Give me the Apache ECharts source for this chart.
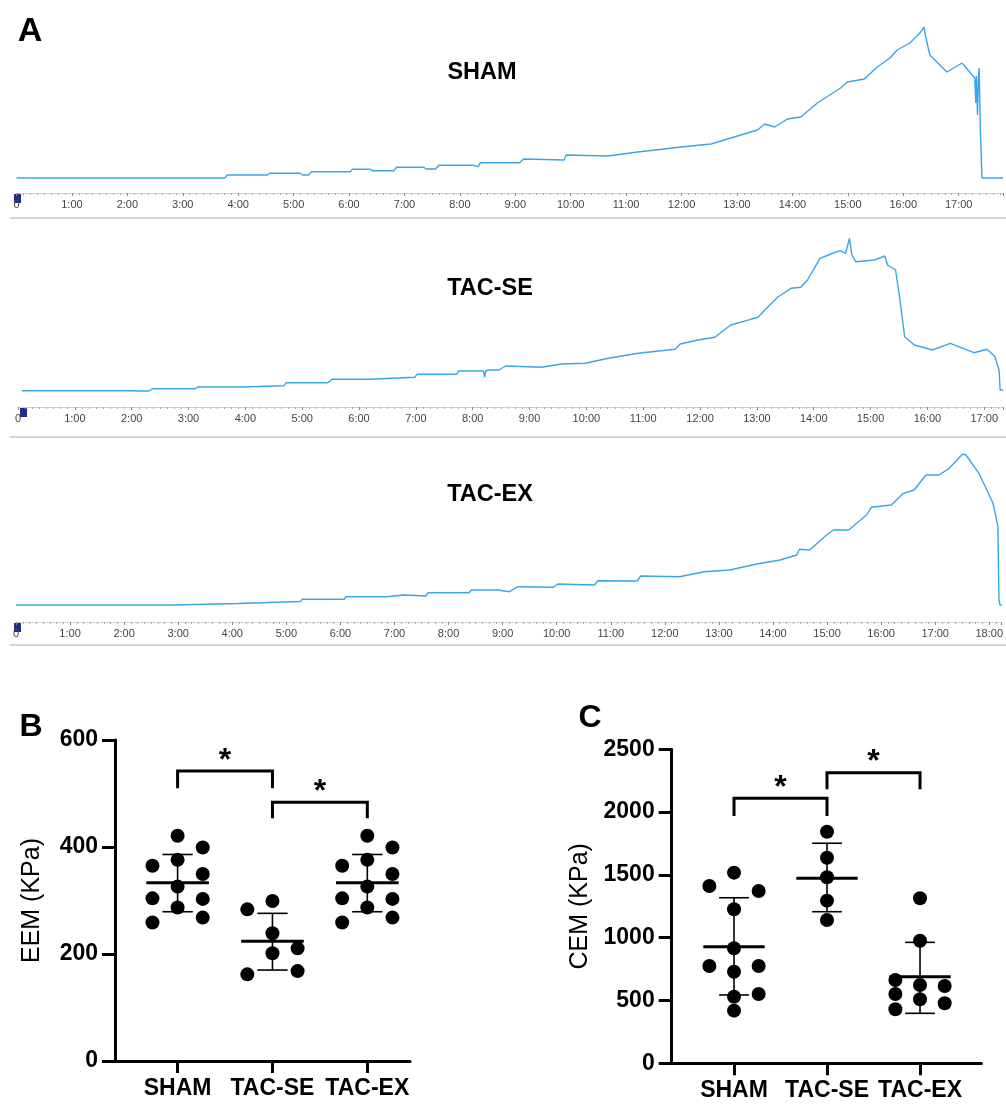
<!DOCTYPE html>
<html>
<head>
<meta charset="utf-8">
<script src="https://cdn.jsdelivr.net/npm/echarts@6/dist/echarts.min.js"></script>
<style>
  html, body { margin: 0; padding: 0; background: #fff; }
  #chart { width: 1006px; height: 1104px; }
</style>
</head>
<body>
<div id="chart"></div>
<script>
// ---- Panel A: tension traces, [time (min), force (a.u.)] ----
const shamTrace = [
  [0, 15], [3.0, 15], [3.03, 16], [3.08, 15], [3.76, 15], [3.8, 18], [4.53, 18], [4.57, 19.7],
  [5.12, 19.7], [5.16, 18], [5.27, 18], [5.32, 21.3], [6.02, 21.3], [6.06, 23.7], [6.38, 23.7],
  [6.42, 22.3], [6.81, 22.3], [6.86, 25.7], [7.35, 25.7], [7.39, 24], [7.56, 24], [7.62, 27.7],
  [8.25, 27.7], [8.28, 26.3], [8.33, 26.3], [8.37, 30.3], [9.08, 30.3], [9.11, 29.5], [9.15, 34],
  [9.88, 33], [9.92, 38], [10.67, 37], [11.21, 41], [11.99, 46], [12.53, 49], [12.89, 55],
  [13.37, 63], [13.5, 69], [13.68, 66], [13.91, 74], [14.15, 76], [14.45, 90], [14.87, 105],
  [14.99, 111], [15.3, 114], [15.53, 126], [15.76, 135], [15.89, 143], [16.12, 150], [16.3, 160],
  [16.38, 166], [16.39, 160], [16.48, 138], [16.79, 121], [17.06, 130], [17.2, 121], [17.29, 115],
  [17.31, 90], [17.32, 117], [17.34, 78], [17.36, 120], [17.37, 125], [17.39, 66], [17.42, 15],
  [17.8, 15]
];
const tacSeTrace = [
  [0.07, 16.3], [2.0, 16.3], [2.1, 16], [2.3, 16], [2.37, 18.3], [3.12, 18.3], [3.16, 20],
  [3.95, 20], [3.98, 21.3], [4.68, 21.3], [4.72, 24.3], [5.45, 24.3], [5.47, 23.5], [5.53, 27.7],
  [6.2, 27.7], [6.23, 29.7], [6.98, 29.7], [7.02, 32.7], [7.72, 32.7], [7.75, 36], [8.19, 36],
  [8.21, 30], [8.23, 36], [8.28, 37], [8.46, 37], [8.58, 41], [9.21, 39.7], [9.56, 43],
  [9.98, 43.7], [10.39, 48.7], [10.91, 53.7], [11.56, 57.7], [11.65, 63], [11.96, 67],
  [12.26, 69.7], [12.54, 82], [12.89, 87.7], [13.02, 89.7], [13.14, 97], [13.37, 110],
  [13.6, 118.7], [13.77, 119.7], [13.89, 127], [14.11, 148.7], [14.3, 153], [14.47, 156.3],
  [14.56, 153.7], [14.63, 168.7], [14.67, 152], [14.74, 145.3], [15.07, 147], [15.25, 151],
  [15.3, 142], [15.44, 137], [15.51, 110], [15.6, 70.3], [15.77, 62], [16.09, 57], [16.4, 63.7],
  [16.82, 54.3], [17.05, 57.7], [17.19, 50.3], [17.26, 37], [17.28, 17], [17.33, 17]
];
const tacExTrace = [
  [0, 17], [2.9, 17], [2.93, 18.5], [4.1, 18.5], [4.13, 20.5], [5.26, 20.5], [5.29, 22.7],
  [6.07, 22.7], [6.1, 25.3], [6.86, 25.3], [6.89, 27], [7.17, 27], [7.2, 26], [7.58, 26],
  [7.62, 29.3], [8.38, 29.3], [8.42, 32], [8.91, 32], [9.13, 30.3], [9.28, 35.3], [9.93, 34.7],
  [10.02, 38], [10.7, 37], [10.76, 41.3], [11.49, 41], [11.55, 46], [12.27, 45.3], [12.73, 50.3],
  [13.2, 52], [13.7, 58], [14.13, 62], [14.44, 67], [14.49, 72.7], [14.68, 72], [14.99, 87],
  [15.12, 92], [15.4, 92], [15.73, 107], [15.82, 114.7], [16.19, 117], [16.41, 128.7],
  [16.61, 132], [16.83, 147], [17.07, 147], [17.26, 153.7], [17.51, 168], [17.57, 167],
  [17.81, 148.7], [18.07, 118.7], [18.16, 95.3], [18.18, 22], [18.2, 17], [18.23, 17]
];
const traceTitles = ['SHAM', 'TAC-SE', 'TAC-EX'];

// ---- Panels B and C ----
const groups = ['SHAM', 'TAC-SE', 'TAC-EX'];

// EEM (KPa) per animal; column: -1 left, 0 centre, 1 right
const eemSham = [421, 365, 399, 376, 349.5, 326, 304, 303, 287, 268, 259];
const eemShamCol = [0, -1, 1, 0, 1, 0, -1, 1, 0, 1, -1];
const eemTacSe = [283.5, 299, 238.7, 210.6, 201.3, 162, 168];
const eemTacSeCol = [-1, 0, 0, 1, 0, -1, 1];
const eemTacEx = [421, 365, 399, 376, 349.5, 326, 304, 303, 287, 268, 259];
const eemTacExCol = [0, -1, 1, 0, 1, 0, -1, 1, 0, 1, -1];
const eemMean = [333, 224, 333];
const eemSdLow = [279, 170, 279];
const eemSdHigh = [386, 276, 386];
// [from group, to group, bracket top, leg end]
const eemBrackets = [[0, 1, 542, 510], [1, 2, 483.5, 453.6]];

// CEM (KPa)
const cemSham = [1518, 1412, 1372, 1226, 916, 775, 775, 729, 552, 530, 419];
const cemShamCol = [0, -1, 1, 0, 0, -1, 1, 0, 1, 0, 0];
const cemTacSe = [1844, 1637, 1481, 1295, 1141];
const cemTacSeCol = [0, 0, 0, 0, 0];
const cemTacEx = [1314, 976, 663, 623, 615, 552, 510, 478, 430];
const cemTacExCol = [0, 0, -1, 0, 1, -1, 0, 1, -1];
const cemMean = [928, 1473, 690];
const cemSdLow = [544, 1207, 398];
const cemSdHigh = [1318, 1752, 963];
const cemBrackets = [[0, 1, 2110, 1969], [1, 2, 2314, 2182]];

const FONT = 'Liberation Sans';
const JIT = 0.265;

const chart = echarts.init(document.getElementById('chart'));

function timeAxis(grid, max) {
  return {
    type: 'value', gridIndex: grid, min: 0, max: max, interval: 1,
    axisLine: { lineStyle: { color: '#cfcfcf', width: 1 } },
    axisTick: { length: 3, lineStyle: { color: '#888' } },
    minorTick: { show: true, splitNumber: 8, length: 2, lineStyle: { color: '#aaa' } },
    splitLine: { show: false },
    axisLabel: {
      margin: 6, fontSize: 11, fontFamily: FONT, color: '#444',
      formatter: v => v === 0 ? '0' : (Number.isInteger(v) ? v + ':00' : '')
    }
  };
}

function groupAxis(grid, min, max) {
  return {
    type: 'value', gridIndex: grid, min: min, max: max,
    axisLine: { onZero: false, lineStyle: { color: '#000', width: 3 } },
    axisTick: { customValues: [0, 1, 2], length: 12, lineStyle: { color: '#000', width: 3 } },
    axisLabel: {
      customValues: [0, 1, 2], margin: 16, fontSize: 23, fontWeight: 'bold',
      fontFamily: FONT, color: '#000', formatter: v => groups[Math.round(v)]
    },
    splitLine: { show: false }
  };
}

function valueAxis(grid, max, step, name, gap) {
  return {
    type: 'value', gridIndex: grid, min: 0, max: max, interval: step,
    name: name, nameLocation: 'middle', nameGap: gap, nameRotate: 90,
    nameTextStyle: { fontSize: 25, color: '#000', fontFamily: FONT },
    axisLine: { show: true, onZero: false, lineStyle: { color: '#000', width: 3 } },
    axisTick: { show: true, length: 13, lineStyle: { color: '#000', width: 3 } },
    axisLabel: {
      margin: 17, fontSize: 23, fontWeight: 'bold', fontFamily: FONT, color: '#000',
      formatter: v => String(v)
    },
    splitLine: { show: false }
  };
}

function dots(vals, cols, g) {
  return vals.map((v, i) => [g + cols[i] * JIT, v]);
}

function statsRender(params, api) {
  const c = api.value(0), m = api.value(1), lo = api.value(2), hi = api.value(3);
  const a = api.coord([c - 0.33, m]), b = api.coord([c + 0.33, m]);
  const top = api.coord([c, hi]), bot = api.coord([c, lo]);
  const cl = api.coord([c - 0.16, hi])[0], cr = api.coord([c + 0.16, hi])[0];
  const thin = { stroke: '#000', lineWidth: 1.6 };
  return {
    type: 'group',
    children: [
      { type: 'line', shape: { x1: top[0], y1: top[1], x2: bot[0], y2: bot[1] }, style: thin },
      { type: 'line', shape: { x1: cl, y1: top[1], x2: cr, y2: top[1] }, style: thin },
      { type: 'line', shape: { x1: cl, y1: bot[1], x2: cr, y2: bot[1] }, style: thin },
      { type: 'line', shape: { x1: a[0], y1: a[1], x2: b[0], y2: b[1] }, style: { stroke: '#000', lineWidth: 3 } }
    ]
  };
}

function bracketRender(params, api) {
  const x1 = api.value(0), x2 = api.value(1), top = api.value(2), leg = api.value(3);
  const p1 = api.coord([x1, leg]), p2 = api.coord([x1, top]);
  const p3 = api.coord([x2, top]), p4 = api.coord([x2, leg]);
  return {
    type: 'group',
    children: [
      { type: 'polyline', shape: { points: [p1, p2, p3, p4] }, style: { stroke: '#000', lineWidth: 3, fill: null } },
      {
        type: 'text', x: (p2[0] + p3[0]) / 2, y: p2[1] - 10,
        style: {
          text: '*', fontSize: 32, fontWeight: 'bold', fontFamily: FONT, fill: '#000',
          align: 'center', verticalAlign: 'middle', textAlign: 'center', textVerticalAlign: 'middle'
        }
      }
    ]
  };
}

function statsData(mean, lo, hi) {
  return mean.map((m, i) => [i, m, lo[i], hi[i]]);
}

const traces = [shamTrace, tacSeTrace, tacExTrace];

const series = traces.map((d, i) => ({
  type: 'line', xAxisIndex: i, yAxisIndex: i, data: d, showSymbol: false, silent: true,
  lineStyle: { color: '#3aa6e8', width: 1.4 }
}));

[[3, [eemSham, eemTacSe, eemTacEx], [eemShamCol, eemTacSeCol, eemTacExCol]],
 [4, [cemSham, cemTacSe, cemTacEx], [cemShamCol, cemTacSeCol, cemTacExCol]]].forEach(([ax, vals, cols]) => {
  vals.forEach((v, g) => {
    series.push({
      type: 'scatter', xAxisIndex: ax, yAxisIndex: ax, data: dots(v, cols[g], g),
      symbolSize: 14, itemStyle: { color: '#000', opacity: 1 }, silent: true
    });
  });
});

series.push(
  { type: 'custom', xAxisIndex: 3, yAxisIndex: 3, renderItem: statsRender, data: statsData(eemMean, eemSdLow, eemSdHigh), clip: false, silent: true },
  { type: 'custom', xAxisIndex: 4, yAxisIndex: 4, renderItem: statsRender, data: statsData(cemMean, cemSdLow, cemSdHigh), clip: false, silent: true },
  { type: 'custom', xAxisIndex: 3, yAxisIndex: 3, renderItem: bracketRender, data: eemBrackets, clip: false, silent: true },
  { type: 'custom', xAxisIndex: 4, yAxisIndex: 4, renderItem: bracketRender, data: cemBrackets, clip: false, silent: true }
);

function label(text, x, y, size) {
  return {
    type: 'text', x: x, y: y, silent: true,
    style: {
      text: text, fontSize: size, fontWeight: 'bold', fontFamily: FONT, fill: '#000',
      align: 'center', verticalAlign: 'middle', textAlign: 'center', textVerticalAlign: 'middle'
    }
  };
}

const graphic = [
  label('A', 30, 32, 34),
  label('B', 31, 727, 32),
  label('C', 590, 718, 32),
  label(traceTitles[0], 482, 73, 23.5),
  label(traceTitles[1], 490, 289, 23.5),
  label(traceTitles[2], 490, 495, 23.5)
];
[218, 437, 645].forEach(y => graphic.push({
  type: 'line', silent: true, shape: { x1: 10, y1: y, x2: 1006, y2: y },
  style: { stroke: '#d6d6d6', lineWidth: 2 }
}));
[[14, 194], [20, 408], [14, 623]].forEach(([x, y]) => graphic.push({
  type: 'rect', silent: true, shape: { x: x, y: y, width: 7, height: 9 },
  style: { fill: '#1f2d86' }
}));

chart.setOption({
  animation: false,
  grid: [
    { left: 16.5, right: 0, top: 20, height: 173 },
    { left: 18, right: 0, top: 237, height: 170 },
    { left: 16, right: 0, top: 440, height: 182 },
    { left: 115, top: 740, width: 295, height: 321 },
    { left: 671.7, top: 749.3, width: 309.7, height: 314 }
  ],
  xAxis: [
    timeAxis(0, 17.8),
    timeAxis(1, 17.33),
    timeAxis(2, 18.23),
    groupAxis(3, -0.66, 2.45),
    groupAxis(4, -0.67, 2.66)
  ],
  yAxis: [
    { type: 'value', gridIndex: 0, min: 0, max: 173, show: false },
    { type: 'value', gridIndex: 1, min: 0, max: 170, show: false },
    { type: 'value', gridIndex: 2, min: 0, max: 182, show: false },
    valueAxis(3, 600, 200, 'EEM (KPa)', 70),
    valueAxis(4, 2500, 500, 'CEM (KPa)', 79)
  ],
  series: series,
  graphic: graphic
});
</script>
</body>
</html>
